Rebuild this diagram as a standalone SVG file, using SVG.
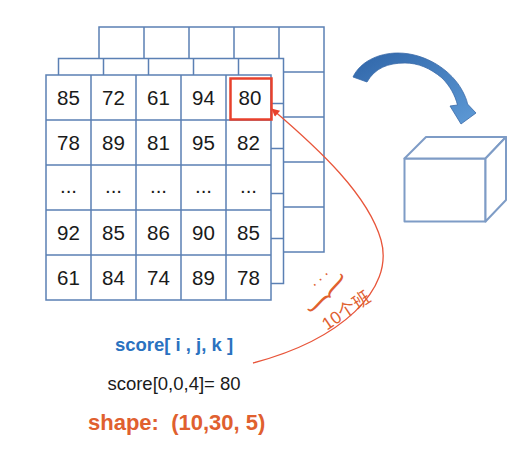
<svg xmlns="http://www.w3.org/2000/svg" width="524" height="450" viewBox="0 0 524 450">
  <defs>
    <style>
      .grid { fill: #ffffff; stroke: #5b80b4; stroke-width: 1.5; }
      .gl { fill: none; stroke: #5b80b4; stroke-width: 1.5; }
      .num { font-family: "Liberation Sans", Arial, sans-serif; font-size: 20.5px; fill: #1a1a1a; text-anchor: middle; }
      .cube { fill: #ffffff; stroke: #7e9cc6; stroke-width: 2; stroke-linejoin: round; }
      .red { fill: none; stroke: #e8553a; stroke-width: 1.3; }
    </style>
    <linearGradient id="blueGrad" x1="0" y1="0" x2="1" y2="1">
      <stop offset="0" stop-color="#2f65a8"/>
      <stop offset="1" stop-color="#5e9ad6"/>
    </linearGradient>
    <marker id="redHead" viewBox="0 0 10 10" refX="9" refY="5" markerWidth="10" markerHeight="8" markerUnits="userSpaceOnUse" orient="auto">
      <path d="M0,0 L10,5 L0,10 Z" fill="#e8412c"/>
    </marker>
  </defs>

  <rect width="524" height="450" fill="#ffffff"/>

  <!-- back layer -->
  <g id="layer-back">
    <rect class="grid" x="99" y="27" width="225" height="225"/>
    <path class="gl" d="M144,27V252M189,27V252M234,27V252M279,27V252M99,72H324M99,117H324M99,162H324M99,207H324"/>
  </g>

  <!-- middle layer -->
  <g id="layer-middle">
    <rect class="grid" x="58.5" y="58.5" width="225" height="225"/>
    <path class="gl" d="M103.5,58.5V283.5M148.5,58.5V283.5M193.5,58.5V283.5M238.5,58.5V283.5M58.5,103.5H283.5M58.5,148.5H283.5M58.5,193.5H283.5M58.5,238.5H283.5"/>
  </g>

  <!-- front layer -->
  <g id="layer-front">
    <rect class="grid" x="46" y="75" width="225" height="225"/>
    <path class="gl" d="M91,75V300M136,75V300M181,75V300M226,75V300M46,120H271M46,165H271M46,210H271M46,255H271"/>
    <text class="num" x="68.5" y="104.5">85</text>
    <text class="num" x="113.5" y="104.5">72</text>
    <text class="num" x="158.5" y="104.5">61</text>
    <text class="num" x="203.5" y="104.5">94</text>
    <text class="num" x="250" y="104.5">80</text>
    <text class="num" x="68.5" y="149.5">78</text>
    <text class="num" x="113.5" y="149.5">89</text>
    <text class="num" x="158.5" y="149.5">81</text>
    <text class="num" x="203.5" y="149.5">95</text>
    <text class="num" x="248.5" y="149.5">82</text>
    <text class="num" x="68.5" y="193">...</text>
    <text class="num" x="113.5" y="193">...</text>
    <text class="num" x="158.5" y="193">...</text>
    <text class="num" x="203.5" y="193">...</text>
    <text class="num" x="248.5" y="193">...</text>
    <text class="num" x="68.5" y="239.5">92</text>
    <text class="num" x="113.5" y="239.5">85</text>
    <text class="num" x="158.5" y="239.5">86</text>
    <text class="num" x="203.5" y="239.5">90</text>
    <text class="num" x="248.5" y="239.5">85</text>
    <text class="num" x="68.5" y="284.5">61</text>
    <text class="num" x="113.5" y="284.5">84</text>
    <text class="num" x="158.5" y="284.5">74</text>
    <text class="num" x="203.5" y="284.5">89</text>
    <text class="num" x="248.5" y="284.5">78</text>
  </g>

  <!-- highlighted cell -->
  <g id="highlight">
    <rect x="230.5" y="78.5" width="41" height="41" fill="none" stroke="#e8412c" stroke-width="2.5"/>
  </g>

  <!-- cube -->
  <g id="cube">
    <rect class="cube" x="404.5" y="158.5" width="81" height="63"/>
    <polygon class="cube" points="404.5,158.5 426,137 506,137 485.5,158.5"/>
    <polygon class="cube" points="485.5,158.5 506,137 506,200 485.5,221.5"/>
  </g>

  <!-- connectors -->
  <g id="connectors">
    <path id="blue-arrow" d="M353,77 C360,62 378,53 398,53 C425,53 452,70 463,92 C466,98 467,101 467.5,104 L476,113 L461,124 L450,106 L457.5,105 C455,95 450,86 442,78 C430,68 418,63 405,63 C388,63 375,68 367,82 Z" fill="url(#blueGrad)" stroke="#3a6aa8" stroke-width="0.8" stroke-linejoin="round"/>
    <path id="red-curve" class="red" d="M253,363 C340,340 395,290 381,240 C368,195 320,150 272,109" marker-end="url(#redHead)"/>
  </g>

  <!-- curve decoration and label -->
  <g id="curve-label" fill="#e0602f">
    <text transform="translate(322.5,279) rotate(-42)" font-family="Liberation Sans, Arial, sans-serif" font-size="16" letter-spacing="3.5" text-anchor="middle">...</text>
    <text transform="translate(325,297) rotate(43) scale(0.55,1.1)" x="0" y="12" font-family="Liberation Serif, Times New Roman, serif" font-size="54" text-anchor="middle">}</text>
    <text transform="translate(349.5,315.5) rotate(-34)" font-family="Liberation Sans, 'Noto Sans CJK SC', sans-serif" font-size="17.5" text-anchor="middle">10个班</text>
  </g>

  <!-- bottom texts -->
  <g id="texts">
    <text x="174" y="351" font-family="Liberation Sans, Arial, sans-serif" font-size="18.5" font-weight="bold" fill="#2a72c0" text-anchor="middle">score[ i , j, k ]</text>
    <text x="174" y="390" font-family="Liberation Sans, Arial, sans-serif" font-size="18.5" fill="#1a1a1a" text-anchor="middle">score[0,0,4]= 80</text>
    <text x="88" y="430" font-family="Liberation Sans, Arial, sans-serif" font-size="22" font-weight="bold" fill="#e0602f" xml:space="preserve">shape:  (10,30, 5)</text>
  </g>
</svg>
